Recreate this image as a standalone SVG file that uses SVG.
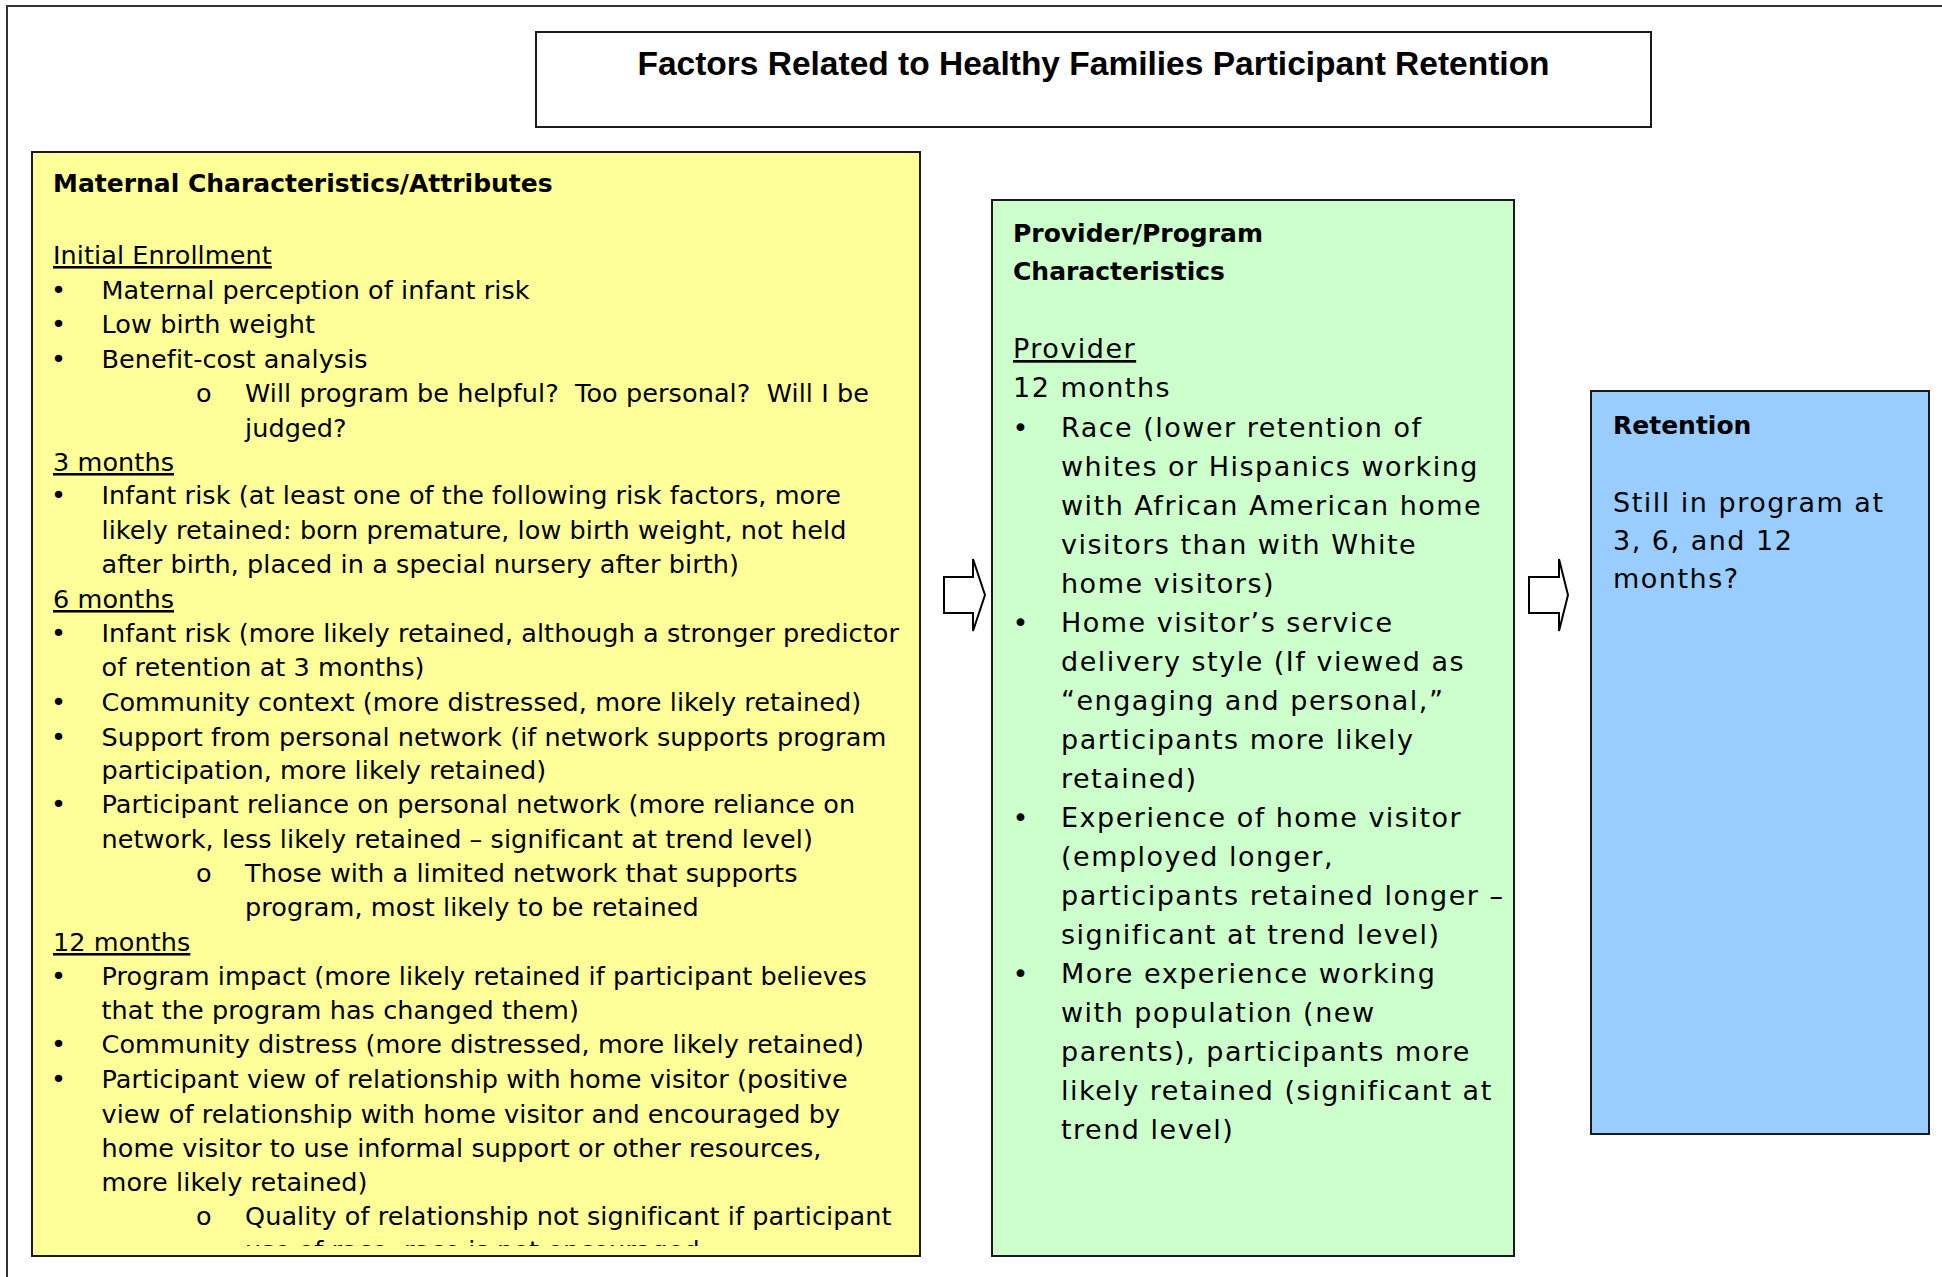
<svg xmlns="http://www.w3.org/2000/svg" width="1942" height="1277" viewBox="0 0 1942 1277">
<style>
text { font-family: "DejaVu Sans", "Liberation Sans", sans-serif; fill: #000; white-space: pre; }
.title { font-family: "Liberation Sans", Arial, sans-serif; font-weight: bold; font-size: 33.5px; }
.hd { font-weight: bold; font-size: 25px; }
.y { font-size: 25.5px; letter-spacing: 0.08px; }
.g { font-size: 27px; letter-spacing: 1.5px; }
.u { text-decoration: underline; }
.box { stroke: #1a1a1a; stroke-width: 2; }
.arrow { fill: #fff; stroke: #000; stroke-width: 2; stroke-linejoin: miter; }
</style>
<defs>
<clipPath id="yclip"><rect x="32" y="152" width="888" height="1094"/></clipPath>
</defs>
<rect x="0" y="0" width="1942" height="1277" fill="#fff"/>
<rect id="frame" x="7" y="6" width="2000" height="2000" fill="none" stroke="#333" stroke-width="2"/>

<g id="title">
<rect class="box" x="536" y="32" width="1115" height="95" fill="#fff"/>
<text class="title" x="1093.5" y="75" text-anchor="middle">Factors Related to Healthy Families Participant Retention</text>
</g>

<g id="maternal">
<rect class="box" x="32" y="152" width="888" height="1104" fill="#FFFF99"/>
<g clip-path="url(#yclip)">
<text class="hd" x="53" y="192">Maternal Characteristics/Attributes</text>
<text class="y u" x="53" y="264">Initial Enrollment</text>
<text class="y" x="51" y="299">•</text><text class="y" x="101.5" y="299">Maternal perception of infant risk</text>
<text class="y" x="51" y="333">•</text><text class="y" x="101.5" y="333">Low birth weight</text>
<text class="y" x="51" y="368">•</text><text class="y" x="101.5" y="368">Benefit-cost analysis</text>
<text class="y" x="196" y="402">o</text><text class="y" x="245" y="402">Will program be helpful?  Too personal?  Will I be</text>
<text class="y" x="245" y="437">judged?</text>
<text class="y u" x="53" y="471">3 months</text>
<text class="y" x="51" y="504">•</text><text class="y" x="101.5" y="504">Infant risk (at least one of the following risk factors, more</text>
<text class="y" x="101.5" y="539">likely retained: born premature, low birth weight, not held</text>
<text class="y" x="101.5" y="573">after birth, placed in a special nursery after birth)</text>
<text class="y u" x="53" y="608">6 months</text>
<text class="y" x="51" y="642">•</text><text class="y" x="101.5" y="642">Infant risk (more likely retained, although a stronger predictor</text>
<text class="y" x="101.5" y="676">of retention at 3 months)</text>
<text class="y" x="51" y="711">•</text><text class="y" x="101.5" y="711">Community context (more distressed, more likely retained)</text>
<text class="y" x="51" y="746">•</text><text class="y" x="101.5" y="746">Support from personal network (if network supports program</text>
<text class="y" x="101.5" y="779">participation, more likely retained)</text>
<text class="y" x="51" y="813">•</text><text class="y" x="101.5" y="813">Participant reliance on personal network (more reliance on</text>
<text class="y" x="101.5" y="848">network, less likely retained – significant at trend level)</text>
<text class="y" x="196" y="882">o</text><text class="y" x="245" y="882">Those with a limited network that supports</text>
<text class="y" x="245" y="916">program, most likely to be retained</text>
<text class="y u" x="53" y="951">12 months</text>
<text class="y" x="51" y="985">•</text><text class="y" x="101.5" y="985">Program impact (more likely retained if participant believes</text>
<text class="y" x="101.5" y="1019">that the program has changed them)</text>
<text class="y" x="51" y="1053">•</text><text class="y" x="101.5" y="1053">Community distress (more distressed, more likely retained)</text>
<text class="y" x="51" y="1088">•</text><text class="y" x="101.5" y="1088">Participant view of relationship with home visitor (positive</text>
<text class="y" x="101.5" y="1123">view of relationship with home visitor and encouraged by</text>
<text class="y" x="101.5" y="1157">home visitor to use informal support or other resources,</text>
<text class="y" x="101.5" y="1191">more likely retained)</text>
<text class="y" x="196" y="1225">o</text><text class="y" x="245" y="1225">Quality of relationship not significant if participant</text>
<text class="y" x="245" y="1259">use of race, race is not encouraged</text>
</g>
</g>

<g id="provider">
<rect class="box" x="992" y="200" width="522" height="1056" fill="#CCFFCC"/>
<text class="hd" x="1013" y="242">Provider/Program</text>
<text class="hd" x="1013" y="280">Characteristics</text>
<text class="g u" x="1013" y="358">Provider</text>
<text class="g" x="1013" y="397">12 months</text>
<text class="g" x="1012.5" y="437">•</text><text class="g" x="1061" y="437">Race (lower retention of</text>
<text class="g" x="1061" y="476">whites or Hispanics working</text>
<text class="g" x="1061" y="515">with African American home</text>
<text class="g" x="1061" y="554">visitors than with White</text>
<text class="g" x="1061" y="593">home visitors)</text>
<text class="g" x="1012.5" y="632">•</text><text class="g" x="1061" y="632">Home visitor’s service</text>
<text class="g" x="1061" y="671">delivery style (If viewed as</text>
<text class="g" x="1061" y="710">“engaging and personal,”</text>
<text class="g" x="1061" y="749">participants more likely</text>
<text class="g" x="1061" y="788">retained)</text>
<text class="g" x="1012.5" y="827">•</text><text class="g" x="1061" y="827">Experience of home visitor</text>
<text class="g" x="1061" y="866">(employed longer,</text>
<text class="g" x="1061" y="905">participants retained longer –</text>
<text class="g" x="1061" y="944">significant at trend level)</text>
<text class="g" x="1012.5" y="983">•</text><text class="g" x="1061" y="983">More experience working</text>
<text class="g" x="1061" y="1022">with population (new</text>
<text class="g" x="1061" y="1061">parents), participants more</text>
<text class="g" x="1061" y="1100">likely retained (significant at</text>
<text class="g" x="1061" y="1139">trend level)</text>
</g>

<g id="retention">
<rect class="box" x="1591" y="391" width="338" height="743" fill="#99CCFF"/>
<text class="hd" x="1613" y="434">Retention</text>
<text class="g" x="1613" y="512">Still in program at</text>
<text class="g" x="1613" y="550">3, 6, and 12</text>
<text class="g" x="1613" y="588">months?</text>
</g>

<g id="connectors">
<polygon class="arrow" points="944,577 973,577 973,559 985,595 973,631 973,613 944,613"/>
<polygon class="arrow" points="1529,577 1559,577 1559,559 1568,595 1559,631 1559,613 1529,613"/>
</g>
</svg>
